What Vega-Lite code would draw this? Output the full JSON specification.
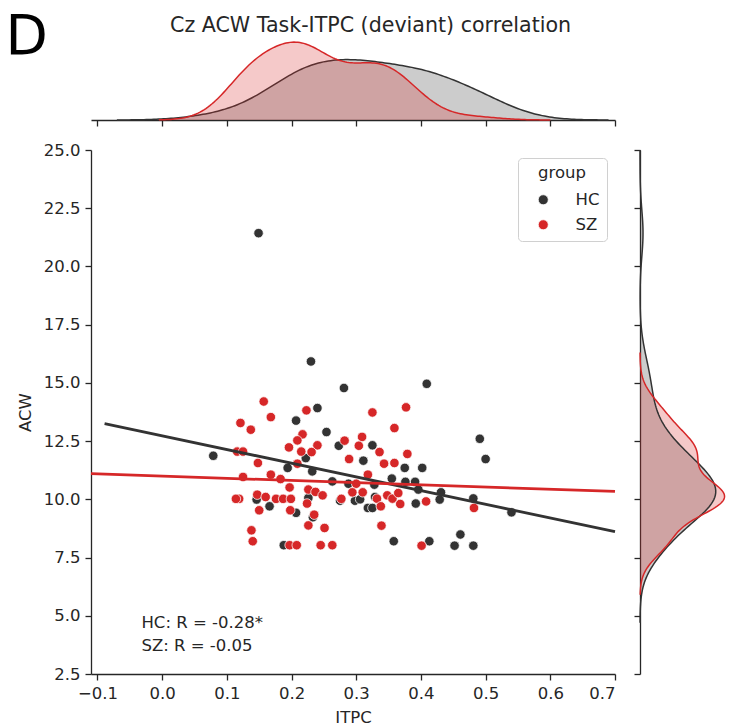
{
  "$schema": "https://vega.github.io/schema/vega-lite/v6.json",
  "description": "Cz ACW Task-ITPC (deviant) correlation, joint scatter with marginal KDEs",
  "background": "white",
  "padding": {"left": 5, "top": 9, "right": 0, "bottom": 0},
  "config": {
    "font": "DejaVu Sans",
    "view": {"stroke": null},
    "axis": {
      "grid": false,
      "domainColor": "#262626",
      "tickColor": "#262626",
      "labelColor": "#262626",
      "titleColor": "#262626",
      "domainWidth": 1.3,
      "tickWidth": 1.3,
      "tickSize": 6,
      "labelFont": "DejaVu Sans",
      "titleFont": "DejaVu Sans",
      "labelFontSize": 16.5,
      "titleFontSize": 16.5,
      "titleFontWeight": "normal",
      "labelPadding": 5
    }
  },
  "datasets": {
    "points": [
      {"ITPC": 0.149, "ACW": 21.43, "group": "HC"},
      {"ITPC": 0.230, "ACW": 15.92, "group": "HC"},
      {"ITPC": 0.281, "ACW": 14.78, "group": "HC"},
      {"ITPC": 0.409, "ACW": 14.96, "group": "HC"},
      {"ITPC": 0.240, "ACW": 13.92, "group": "HC"},
      {"ITPC": 0.207, "ACW": 13.38, "group": "HC"},
      {"ITPC": 0.254, "ACW": 12.89, "group": "HC"},
      {"ITPC": 0.273, "ACW": 12.30, "group": "HC"},
      {"ITPC": 0.079, "ACW": 11.87, "group": "HC"},
      {"ITPC": 0.194, "ACW": 11.35, "group": "HC"},
      {"ITPC": 0.232, "ACW": 11.20, "group": "HC"},
      {"ITPC": 0.263, "ACW": 10.77, "group": "HC"},
      {"ITPC": 0.288, "ACW": 10.67, "group": "HC"},
      {"ITPC": 0.311, "ACW": 11.66, "group": "HC"},
      {"ITPC": 0.275, "ACW": 9.94, "group": "HC"},
      {"ITPC": 0.298, "ACW": 9.94, "group": "HC"},
      {"ITPC": 0.318, "ACW": 9.63, "group": "HC"},
      {"ITPC": 0.146, "ACW": 9.99, "group": "HC"},
      {"ITPC": 0.166, "ACW": 9.70, "group": "HC"},
      {"ITPC": 0.207, "ACW": 9.42, "group": "HC"},
      {"ITPC": 0.226, "ACW": 10.06, "group": "HC"},
      {"ITPC": 0.233, "ACW": 9.23, "group": "HC"},
      {"ITPC": 0.188, "ACW": 8.03, "group": "HC"},
      {"ITPC": 0.325, "ACW": 12.32, "group": "HC"},
      {"ITPC": 0.491, "ACW": 12.60, "group": "HC"},
      {"ITPC": 0.500, "ACW": 11.73, "group": "HC"},
      {"ITPC": 0.375, "ACW": 11.35, "group": "HC"},
      {"ITPC": 0.402, "ACW": 11.35, "group": "HC"},
      {"ITPC": 0.355, "ACW": 10.89, "group": "HC"},
      {"ITPC": 0.376, "ACW": 10.75, "group": "HC"},
      {"ITPC": 0.391, "ACW": 10.75, "group": "HC"},
      {"ITPC": 0.328, "ACW": 10.63, "group": "HC"},
      {"ITPC": 0.396, "ACW": 10.42, "group": "HC"},
      {"ITPC": 0.431, "ACW": 10.30, "group": "HC"},
      {"ITPC": 0.429, "ACW": 9.99, "group": "HC"},
      {"ITPC": 0.481, "ACW": 10.04, "group": "HC"},
      {"ITPC": 0.540, "ACW": 9.44, "group": "HC"},
      {"ITPC": 0.325, "ACW": 9.63, "group": "HC"},
      {"ITPC": 0.392, "ACW": 9.82, "group": "HC"},
      {"ITPC": 0.329, "ACW": 10.10, "group": "HC"},
      {"ITPC": 0.358, "ACW": 8.20, "group": "HC"},
      {"ITPC": 0.413, "ACW": 8.20, "group": "HC"},
      {"ITPC": 0.461, "ACW": 8.49, "group": "HC"},
      {"ITPC": 0.452, "ACW": 8.01, "group": "HC"},
      {"ITPC": 0.481, "ACW": 8.01, "group": "HC"},
      {"ITPC": 0.222, "ACW": 11.77, "group": "HC"},
      {"ITPC": 0.306, "ACW": 10.00, "group": "HC"},
      {"ITPC": 0.157, "ACW": 14.20, "group": "SZ"},
      {"ITPC": 0.168, "ACW": 13.53, "group": "SZ"},
      {"ITPC": 0.121, "ACW": 13.28, "group": "SZ"},
      {"ITPC": 0.137, "ACW": 12.99, "group": "SZ"},
      {"ITPC": 0.223, "ACW": 13.82, "group": "SZ"},
      {"ITPC": 0.217, "ACW": 12.79, "group": "SZ"},
      {"ITPC": 0.209, "ACW": 12.53, "group": "SZ"},
      {"ITPC": 0.196, "ACW": 12.23, "group": "SZ"},
      {"ITPC": 0.215, "ACW": 12.05, "group": "SZ"},
      {"ITPC": 0.240, "ACW": 12.32, "group": "SZ"},
      {"ITPC": 0.231, "ACW": 12.03, "group": "SZ"},
      {"ITPC": 0.282, "ACW": 12.52, "group": "SZ"},
      {"ITPC": 0.309, "ACW": 12.68, "group": "SZ"},
      {"ITPC": 0.304, "ACW": 12.30, "group": "SZ"},
      {"ITPC": 0.116, "ACW": 12.05, "group": "SZ"},
      {"ITPC": 0.125, "ACW": 12.05, "group": "SZ"},
      {"ITPC": 0.148, "ACW": 11.56, "group": "SZ"},
      {"ITPC": 0.125, "ACW": 10.96, "group": "SZ"},
      {"ITPC": 0.209, "ACW": 11.53, "group": "SZ"},
      {"ITPC": 0.168, "ACW": 11.06, "group": "SZ"},
      {"ITPC": 0.183, "ACW": 10.87, "group": "SZ"},
      {"ITPC": 0.197, "ACW": 10.51, "group": "SZ"},
      {"ITPC": 0.226, "ACW": 10.42, "group": "SZ"},
      {"ITPC": 0.237, "ACW": 10.32, "group": "SZ"},
      {"ITPC": 0.248, "ACW": 10.17, "group": "SZ"},
      {"ITPC": 0.119, "ACW": 10.02, "group": "SZ"},
      {"ITPC": 0.114, "ACW": 10.02, "group": "SZ"},
      {"ITPC": 0.147, "ACW": 10.20, "group": "SZ"},
      {"ITPC": 0.160, "ACW": 10.10, "group": "SZ"},
      {"ITPC": 0.176, "ACW": 10.02, "group": "SZ"},
      {"ITPC": 0.187, "ACW": 10.02, "group": "SZ"},
      {"ITPC": 0.199, "ACW": 10.02, "group": "SZ"},
      {"ITPC": 0.150, "ACW": 9.53, "group": "SZ"},
      {"ITPC": 0.198, "ACW": 9.53, "group": "SZ"},
      {"ITPC": 0.224, "ACW": 9.82, "group": "SZ"},
      {"ITPC": 0.235, "ACW": 9.34, "group": "SZ"},
      {"ITPC": 0.226, "ACW": 8.88, "group": "SZ"},
      {"ITPC": 0.251, "ACW": 8.77, "group": "SZ"},
      {"ITPC": 0.138, "ACW": 8.67, "group": "SZ"},
      {"ITPC": 0.140, "ACW": 8.20, "group": "SZ"},
      {"ITPC": 0.197, "ACW": 8.03, "group": "SZ"},
      {"ITPC": 0.208, "ACW": 8.03, "group": "SZ"},
      {"ITPC": 0.245, "ACW": 8.03, "group": "SZ"},
      {"ITPC": 0.263, "ACW": 8.03, "group": "SZ"},
      {"ITPC": 0.289, "ACW": 11.73, "group": "SZ"},
      {"ITPC": 0.300, "ACW": 10.67, "group": "SZ"},
      {"ITPC": 0.294, "ACW": 10.30, "group": "SZ"},
      {"ITPC": 0.310, "ACW": 10.30, "group": "SZ"},
      {"ITPC": 0.277, "ACW": 10.02, "group": "SZ"},
      {"ITPC": 0.325, "ACW": 13.73, "group": "SZ"},
      {"ITPC": 0.377, "ACW": 13.95, "group": "SZ"},
      {"ITPC": 0.359, "ACW": 13.06, "group": "SZ"},
      {"ITPC": 0.336, "ACW": 12.03, "group": "SZ"},
      {"ITPC": 0.379, "ACW": 11.95, "group": "SZ"},
      {"ITPC": 0.343, "ACW": 11.53, "group": "SZ"},
      {"ITPC": 0.359, "ACW": 11.56, "group": "SZ"},
      {"ITPC": 0.318, "ACW": 11.06, "group": "SZ"},
      {"ITPC": 0.332, "ACW": 10.03, "group": "SZ"},
      {"ITPC": 0.348, "ACW": 10.17, "group": "SZ"},
      {"ITPC": 0.356, "ACW": 10.03, "group": "SZ"},
      {"ITPC": 0.365, "ACW": 10.27, "group": "SZ"},
      {"ITPC": 0.368, "ACW": 9.80, "group": "SZ"},
      {"ITPC": 0.338, "ACW": 9.70, "group": "SZ"},
      {"ITPC": 0.408, "ACW": 9.91, "group": "SZ"},
      {"ITPC": 0.482, "ACW": 9.63, "group": "SZ"},
      {"ITPC": 0.339, "ACW": 8.87, "group": "SZ"},
      {"ITPC": 0.401, "ACW": 8.01, "group": "SZ"}
    ],
    "fits": [
      {"group": "HC", "ITPC": -0.089, "ACW": 13.25},
      {"group": "HC", "ITPC": 0.7, "ACW": 8.61},
      {"group": "SZ", "ITPC": -0.11, "ACW": 11.10},
      {"group": "SZ", "ITPC": 0.7, "ACW": 10.34}
    ],
    "notes": [
      {"label": "HC: R = -0.28*", "ITPC": -0.032, "ACW": 4.48},
      {"label": "SZ: R = -0.05", "ITPC": -0.032, "ACW": 3.48}
    ]
  },
  "bounds": "flush",
  "spacing": 30,
  "resolve": {"scale": {"color": "independent"}, "legend": {"color": "independent"}},
  "vconcat": [
    {
      "width": 524,
      "height": 81,
      "title": {
        "text": "Cz ACW Task-ITPC (deviant) correlation",
        "anchor": "start",
        "frame": "group",
        "dx": 79,
        "dy": 50,
        "fontSize": 20.6,
        "fontWeight": "normal",
        "font": "DejaVu Sans",
        "color": "#262626",
        "baseline": "alphabetic",
        "offset": 6
      },
      "data": {"name": "points"},
      "encoding": {
        "x": {
          "field": "ITPC", "type": "quantitative",
          "scale": {"domain": [-0.11, 0.7], "nice": false, "zero": false},
          "axis": {"values": [-0.1, 0, 0.1, 0.2, 0.3, 0.4, 0.5, 0.6, 0.7], "labels": false, "title": null}
        },
        "y": {
          "field": "density", "type": "quantitative",
          "scale": {"domain": [0, 4.1], "nice": false},
          "axis": {
            "domain": false, "ticks": false, "labels": false,
            "title": "D", "titleAngle": 0, "titleAlign": "left", "titleBaseline": "alphabetic",
            "titleX": -86, "titleY": 14, "titleFontSize": 55, "titleColor": "black"
          }
        },
        "color": {
          "field": "group", "type": "nominal",
          "scale": {"domain": ["HC", "SZ"], "range": ["#333333", "#d62728"]},
          "legend": null
        }
      },
      "layer": [
        {
          "transform": [
            {"filter": "datum.group === 'HC'"},
            {"density": "ITPC", "groupby": ["group"], "bandwidth": 0.05, "extent": [-0.07, 0.69], "steps": 200, "as": ["ITPC", "density"]}
          ],
          "mark": {"type": "area", "fillOpacity": 0.25, "line": {"strokeWidth": 1.5}}
        },
        {
          "transform": [
            {"filter": "datum.group === 'SZ'"},
            {"density": "ITPC", "groupby": ["group"], "bandwidth": 0.04, "extent": [-0.005, 0.6], "steps": 200, "as": ["ITPC", "density"]}
          ],
          "mark": {"type": "area", "fillOpacity": 0.25, "line": {"strokeWidth": 1.5}}
        }
      ]
    },
    {
      "bounds": "flush",
      "spacing": 25,
      "resolve": {"scale": {"color": "independent"}, "legend": {"color": "independent"}},
      "hconcat": [
        {
          "width": 524,
          "height": 524,
          "encoding": {
            "x": {
              "field": "ITPC", "type": "quantitative",
              "scale": {"domain": [-0.11, 0.7], "nice": false, "zero": false},
              "axis": {"values": [-0.1, 0, 0.1, 0.2, 0.3, 0.4, 0.5, 0.6, 0.7], "format": ".1f", "title": "ITPC", "titlePadding": 8}
            },
            "y": {
              "field": "ACW", "type": "quantitative",
              "scale": {"domain": [2.5, 25], "nice": false, "zero": false},
              "axis": {"values": [2.5, 5, 7.5, 10, 12.5, 15, 17.5, 20, 22.5, 25], "format": ".1f", "title": "ACW", "titlePadding": 10}
            }
          },
          "layer": [
            {
              "data": {"name": "points"},
              "mark": {"type": "circle", "size": 90, "opacity": 1, "stroke": "white", "strokeWidth": 0.75},
              "encoding": {
                "color": {
                  "field": "group", "type": "nominal",
                  "scale": {"domain": ["HC", "SZ"], "range": ["#333333", "#d62728"]},
                  "legend": {
                    "orient": "none", "legendX": 427, "legendY": 8,
                    "title": "group", "titleAnchor": "middle",
                    "fillColor": "white", "strokeColor": "#d0d0d0", "cornerRadius": 4,
                    "padding": 7, "symbolOffset": 10, "labelOffset": 24,
                    "rowPadding": 8, "titlePadding": 10,
                    "titleFontSize": 16.5, "labelFontSize": 16.5, "titleFontWeight": "normal",
                    "titleFont": "DejaVu Sans", "labelFont": "DejaVu Sans",
                    "titleColor": "#262626", "labelColor": "#262626",
                    "symbolType": "circle", "symbolSize": 100,
                    "symbolStrokeColor": "white", "symbolStrokeWidth": 0.75
                  }
                }
              }
            },
            {
              "data": {"name": "fits"},
              "mark": {"type": "line", "strokeWidth": 2.8},
              "encoding": {
                "stroke": {
                  "field": "group", "type": "nominal",
                  "scale": {"domain": ["HC", "SZ"], "range": ["#333333", "#d62728"]},
                  "legend": null
                },
                "detail": {"field": "group"}
              }
            },
            {
              "data": {"name": "notes"},
              "mark": {"type": "text", "align": "left", "baseline": "alphabetic", "fontSize": 16.5, "font": "DejaVu Sans", "color": "#262626"},
              "encoding": {"text": {"field": "label"}}
            }
          ]
        },
        {
          "width": 87,
          "height": 524,
          "data": {"name": "points"},
          "encoding": {
            "y": {
              "field": "ACW", "type": "quantitative",
              "scale": {"domain": [2.5, 25], "nice": false, "zero": false},
              "axis": {"values": [2.5, 5, 7.5, 10, 12.5, 15, 17.5, 20, 22.5, 25], "labels": false, "title": null}
            },
            "x": {
              "field": "density", "type": "quantitative",
              "scale": {"domain": [0, 0.245], "nice": false},
              "axis": null
            },
            "color": {
              "field": "group", "type": "nominal",
              "scale": {"domain": ["HC", "SZ"], "range": ["#333333", "#d62728"]},
              "legend": null
            }
          },
          "layer": [
            {
              "transform": [
                {"filter": "datum.group === 'HC'"},
                {"density": "ACW", "groupby": ["group"], "bandwidth": 1.0, "extent": [4.7, 25], "steps": 200, "as": ["ACW", "density"]}
              ],
              "mark": {"type": "area", "orient": "horizontal", "fillOpacity": 0.25}
            },
            {
              "transform": [
                {"filter": "datum.group === 'SZ'"},
                {"density": "ACW", "groupby": ["group"], "bandwidth": 0.7, "extent": [5.9, 16.3], "steps": 200, "as": ["ACW", "density"]}
              ],
              "mark": {"type": "area", "orient": "horizontal", "fillOpacity": 0.25}
            },
            {
              "transform": [
                {"filter": "datum.group === 'HC'"},
                {"density": "ACW", "groupby": ["group"], "bandwidth": 1.0, "extent": [4.7, 25], "steps": 200, "as": ["ACW", "density"]}
              ],
              "mark": {"type": "line", "strokeWidth": 1.5},
              "encoding": {"order": {"field": "ACW", "type": "quantitative"}}
            },
            {
              "transform": [
                {"filter": "datum.group === 'SZ'"},
                {"density": "ACW", "groupby": ["group"], "bandwidth": 0.7, "extent": [5.9, 16.3], "steps": 200, "as": ["ACW", "density"]}
              ],
              "mark": {"type": "line", "strokeWidth": 1.5},
              "encoding": {"order": {"field": "ACW", "type": "quantitative"}}
            }
          ]
        }
      ]
    }
  ]
}
